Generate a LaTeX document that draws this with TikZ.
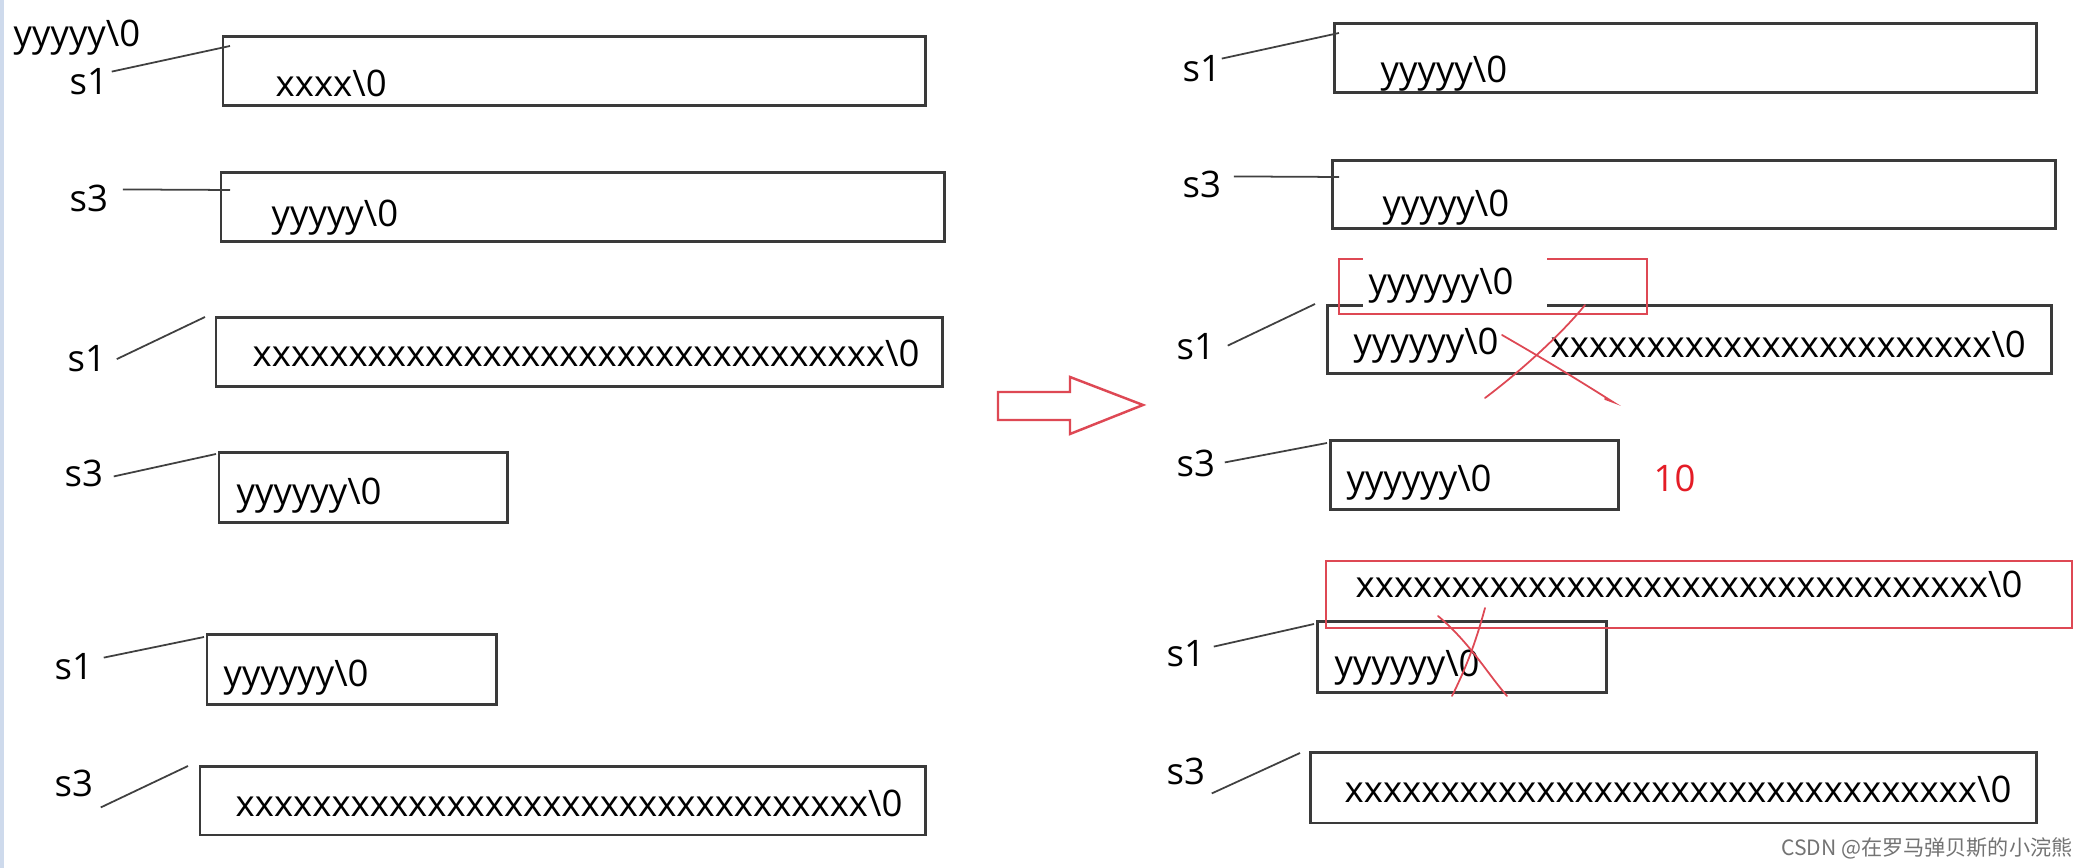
\documentclass[tikz,border=0pt]{standalone}
\usepackage{fontspec}
\setmainfont{Open Sans}
\newfontfamily\cjkfont{Noto Sans CJK SC}
\usepackage{tikz}
\usetikzlibrary{fit}

\definecolor{penred}{RGB}{222,72,84}
\definecolor{numred}{RGB}{228,28,38}
\definecolor{boxgray}{RGB}{58,58,58}
\definecolor{edgeblue}{RGB}{206,218,236}

\begin{document}
\begin{tikzpicture}[x=0.01cm, y=-0.01cm, font=\fontsize{10.4pt}{12pt}\selectfont,
    cell/.style={draw=boxgray, line width=0.85pt, inner sep=0pt},
    redcell/.style={draw=penred, line width=0.7pt, inner sep=0pt},
    txt/.style={anchor=base west, inner sep=0pt},
    lbl/.style={anchor=base west, inner sep=0pt},
    ptr/.style={draw=black!75, line width=0.5pt},
    pen/.style={draw=penred, line width=0.5pt, line cap=round}]
% canvas in pixels of the screenshot (y grows downwards)
\fill[white] (0,0) rectangle (2088,868);
\useasboundingbox (0,0) rectangle (2088,868);
\draw[edgeblue, line width=1.2pt] (1.5,0) -- (1.5,868);

% ---- before
\node[txt] (old) at (13,47) {yyyyy\textbackslash0};
\node[cell, fit={(223,37) (925,106)}] (b1) {};
\node[cell, fit={(221,173) (944,242)}] (b2) {};
\node[cell, fit={(216,318) (942,387)}] (b3) {};
\node[cell, fit={(219,453) (507,523)}] (b4) {};
\node[cell, fit={(207,635) (496,705)}] (b5) {};
\node[cell, fit={(200,767) (925,835)}] (b6) {};
\node[txt] (t1) at (275,97) {xxxx\textbackslash0};
\node[txt] (t2) at (271,227) {yyyyy\textbackslash0};
\node[txt] (t3) at (252,367) {xxxxxxxxxxxxxxxxxxxxxxxxxxxxxxxxx\textbackslash0};
\node[txt] (t4) at (236,505) {yyyyyy\textbackslash0};
\node[txt] (t5) at (223,687) {yyyyyy\textbackslash0};
\node[txt] (t6) at (235,817) {xxxxxxxxxxxxxxxxxxxxxxxxxxxxxxxxx\textbackslash0};
\node[lbl] (la1) at (69,95) {s1};
\node[lbl] (la2) at (69,212) {s3};
\node[lbl] (la3) at (67,372) {s1};
\node[lbl] (la4) at (64,487) {s3};
\node[lbl] (la5) at (54,680) {s1};
\node[lbl] (la6) at (54,797) {s3};
\coordinate (pa1) at (230,46);
\coordinate (pa2) at (230,190);
\coordinate (pa3) at (205,317);
\coordinate (pa4) at (216,454);
\coordinate (pa5) at (204,637);
\coordinate (pa6) at (188,766);
\draw[ptr] (la1.east) ++(3,-10.5) -- (pa1);
\draw[ptr] (la2.east) ++(14,-9.5) -- (pa2);
\draw[ptr] (la3.east) ++(10,0) -- (pa3);
\draw[ptr] (la4.east) ++(10,2.5) -- (pa4);
\draw[ptr] (la5.east) ++(10,-9.5) -- (pa5);
\draw[ptr] (la6.east) ++(7,23.5) -- (pa6);

\draw[penred, line width=0.7pt] (998,392) -- (1070,392) -- (1070,377) -- (1143,405)
  -- (1070,434) -- (1070,420) -- (998,420) -- cycle;

% ---- after
\node[cell, fit={(1334,24) (2036,93)}] (r1) {};
\node[cell, fit={(1332,161) (2055,229)}] (r2) {};
\node[cell, fit={(1327,306) (2051,374)}] (r3) {};
\node[redcell, fit={(1339,259) (1647,314)}] (n3) {};
\fill[white] (1363,254) rectangle (1547,311);
\node[cell, fit={(1330,441) (1618,510)}] (r4) {};
\node[cell, fit={(1317,622) (1606,693)}] (r6) {};
\node[redcell, fit={(1326,561) (2072,628)}] (n6) {};
\node[cell, fit={(1310,753) (2036,823)}] (r7) {};
\node[txt] (u1) at (1380,83) {yyyyy\textbackslash0};
\node[txt] (u2) at (1382,217) {yyyyy\textbackslash0};
\node[txt] (v3) at (1368,295) {yyyyyy\textbackslash0};
\node[txt] (u3) at (1353,355) {yyyyyy\textbackslash0};
\node[txt] (w3) at (1550,358) {xxxxxxxxxxxxxxxxxxxxxxx\textbackslash0};
\node[txt] (u4) at (1346,492) {yyyyyy\textbackslash0};
\node[txt, text=numred] (len) at (1653,492) {10};
\node[txt] (v6) at (1355,598) {xxxxxxxxxxxxxxxxxxxxxxxxxxxxxxxxx\textbackslash0};
\node[txt] (u6) at (1334,677) {yyyyyy\textbackslash0};
\node[txt] (u7) at (1344,803) {xxxxxxxxxxxxxxxxxxxxxxxxxxxxxxxxx\textbackslash0};
\node[lbl] (lr1) at (1182,82) {s1};
\node[lbl] (lr2) at (1182,198) {s3};
\node[lbl] (lr3) at (1176,360) {s1};
\node[lbl] (lr4) at (1176,477) {s3};
\node[lbl] (lr6) at (1166,667) {s1};
\node[lbl] (lr7) at (1166,785) {s3};
\coordinate (pr1) at (1339,33);
\coordinate (pr2) at (1339,177);
\coordinate (pr3) at (1315,304);
\coordinate (pr4) at (1327,443);
\coordinate (pr6) at (1314,624);
\coordinate (pr7) at (1300,753);
\draw[ptr] (lr1.east) ++(0,-10.5) -- (pr1);
\draw[ptr] (lr2.east) ++(12,-8.5) -- (pr2);
\draw[ptr] (lr3.east) ++(12,-1.5) -- (pr3);
\draw[ptr] (lr4.east) ++(9,-1.5) -- (pr4);
\draw[ptr] (lr6.east) ++(8,-7.5) -- (pr6);
\draw[ptr] (lr7.east) ++(6,21.5) -- (pr7);

% red strike-outs
\draw[pen] (1502,335) .. controls (1540,357) and (1567,373) .. (1613,402) -- (1605,399);
\draw[pen] (1485,398) .. controls (1517,374) and (1560,336) .. (1585,305);
\draw[pen] (1438,616) .. controls (1470,643) and (1487,673) .. (1507,696);
\draw[pen] (1485,608) .. controls (1475,645) and (1465,670) .. (1452,696);

\node[anchor=base east, inner sep=0pt, text=black!55, font=\cjkfont\fontsize{6pt}{7pt}\selectfont]
  (mark) at (2073,856) {CSDN @在罗马弹贝斯的小浣熊};
\end{tikzpicture}
\end{document}
